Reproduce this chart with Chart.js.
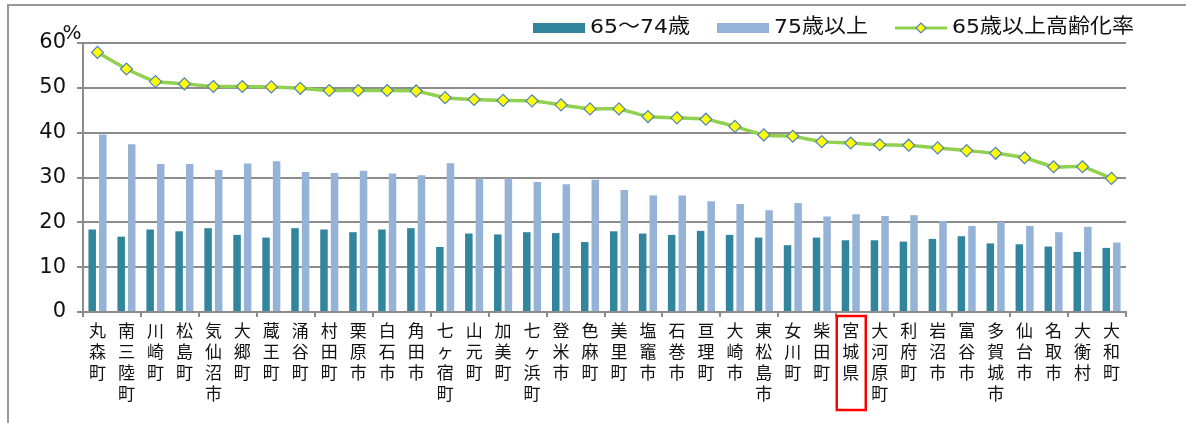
<!DOCTYPE html>
<html>
<head>
<meta charset="utf-8">
<script src="https://cdn.jsdelivr.net/npm/chart.js@4/dist/chart.umd.min.js"></script>
<style>
  html, body { margin: 0; padding: 0; background: #fff; }
  #wrap { width: 1186px; height: 423px; }
</style>
</head>
<body>
<div id="wrap"><canvas id="agingChart" width="1186" height="423"></canvas></div>
<script>
// 市町村別 高齢化率（％）
const municipalities = [
    '丸森町', '南三陸町', '川崎町', '松島町', '気仙沼市', '大郷町', '蔵王町', '涌谷町', '村田町',
    '栗原市', '白石市', '角田市', '七ヶ宿町', '山元町', '加美町', '七ヶ浜町', '登米市', '色麻町',
    '美里町', '塩竈市', '石巻市', '亘理町', '大崎市', '東松島市', '女川町', '柴田町', '宮城県',
    '大河原町', '利府町', '岩沼市', '富谷市', '多賀城市', '仙台市', '名取市', '大衡村', '大和町'
];
const age65to74 = [
    18.4, 16.8, 18.4, 18.0, 18.7, 17.2, 16.6, 18.7, 18.4, 17.8, 18.4, 18.7,
    14.5, 17.5, 17.3, 17.8, 17.6, 15.6, 18.0, 17.5, 17.2, 18.1, 17.2, 16.6,
    14.9, 16.6, 16.0, 16.0, 15.7, 16.3, 16.9, 15.3, 15.1, 14.6, 13.4, 14.3
];
const age75plus = [
    39.6, 37.4, 33.0, 33.0, 31.7, 33.1, 33.6, 31.2, 31.0, 31.5, 30.9, 30.5,
    33.2, 29.8, 29.8, 29.0, 28.5, 29.5, 27.2, 26.0, 26.0, 24.7, 24.1, 22.7,
    24.3, 21.3, 21.8, 21.4, 21.6, 20.3, 19.2, 20.1, 19.2, 17.8, 19.0, 15.5
];
const agingRate = [
    57.9, 54.2, 51.4, 50.9, 50.3, 50.3, 50.2, 49.9, 49.4, 49.4, 49.4, 49.3,
    47.8, 47.4, 47.2, 47.1, 46.2, 45.3, 45.3, 43.6, 43.3, 43.0, 41.4, 39.5,
    39.2, 38.0, 37.7, 37.3, 37.2, 36.6, 36.0, 35.4, 34.4, 32.4, 32.4, 29.8
];
const seriesNames = ['65～74歳', '75歳以上', '65歳以上高齢化率'];
const highlighted = '宮城県';

const GRID = '#8c8c8c';
const TEXT = '#111';
const CJK = '"Noto Sans CJK JP", sans-serif';

function drawDiamond(ctx, x, y, r) {
    ctx.beginPath();
    ctx.moveTo(x, y - r);
    ctx.lineTo(x + r, y);
    ctx.lineTo(x, y + r);
    ctx.lineTo(x - r, y);
    ctx.closePath();
    ctx.fillStyle = '#FFFF00';
    ctx.fill();
    ctx.lineWidth = 1.2;
    ctx.strokeStyle = '#4F81BD';
    ctx.stroke();
}

// 枠線・凡例・％記号・宮城県の赤枠
const decorations = {
    id: 'decorations',
    beforeDraw(chart) {
        const { ctx, width, height } = chart;
        ctx.save();
        ctx.strokeStyle = '#999';
        ctx.lineWidth = 2;
        ctx.beginPath();
        ctx.moveTo(8, height);
        ctx.lineTo(8, 5);
        ctx.lineTo(width, 5);
        ctx.stroke();
        ctx.restore();
    },
    afterDraw(chart) {
        const { ctx, chartArea, scales } = chart;
        ctx.save();

        // 凡例（文字は少し横長に描く）
        const stretch = 1.1;
        const cy = 28;
        let x = 533;
        ctx.font = '20px "DejaVu Sans", ' + CJK;
        ctx.textBaseline = 'middle';
        chart.data.datasets.slice().sort((a, b) => a.legendRank - b.legendRank).forEach(ds => {
            if (ds.type === 'line') {
                ctx.strokeStyle = ds.borderColor;
                ctx.lineWidth = 3;
                ctx.beginPath();
                ctx.moveTo(x, cy);
                ctx.lineTo(x + 52, cy);
                ctx.stroke();
                drawDiamond(ctx, x + 26, cy, 5);
            } else {
                ctx.fillStyle = ds.backgroundColor;
                ctx.fillRect(x, cy - 5, 52, 10);
            }
            x += 57;
            const w = ctx.measureText(ds.label).width * stretch;
            ctx.save();
            ctx.translate(x, cy);
            ctx.scale(stretch, 1);
            ctx.fillStyle = TEXT;
            ctx.fillText(ds.label, 0, 0);
            ctx.restore();
            x += w + 27;
        });

        // ％
        ctx.font = '20px "DejaVu Sans"';
        ctx.fillStyle = TEXT;
        ctx.textAlign = 'center';
        ctx.fillText('%', chartArea.left - 11, chartArea.top - 9);

        // 宮城県の赤枠
        const xi = scales.x.getPixelForValue(municipalities.indexOf(highlighted));
        ctx.strokeStyle = '#FF0000';
        ctx.lineWidth = 2.5;
        ctx.strokeRect(xi - 14, chartArea.bottom + 4, 29, 94);
        ctx.restore();
    }
};

const ctx = document.getElementById('agingChart');
new Chart(ctx, {
    type: 'bar',
    data: {
        labels: municipalities.map(n => Array.from(n)),
        datasets: [
            {
                type: 'line',
                label: seriesNames[2],
                legendRank: 3,
                data: agingRate,
                borderColor: '#92D050',
                borderWidth: 3.5,
                tension: 0.15,
                pointStyle: 'rectRot',
                pointRadius: 6,
                pointBackgroundColor: '#FFFF00',
                pointBorderColor: '#4F81BD',
                pointBorderWidth: 1.2,
                fill: false
            },
            {
                label: seriesNames[0],
                legendRank: 1,
                data: age65to74,
                backgroundColor: '#31859C',
                categoryPercentage: 0.73,
                barPercentage: 0.71
            },
            {
                label: seriesNames[1],
                legendRank: 2,
                data: age75plus,
                backgroundColor: '#95B3D7',
                categoryPercentage: 0.73,
                barPercentage: 0.71
            }
        ]
    },
    options: {
        responsive: false,
        animation: false,
        layout: { padding: { left: 0, right: 60, top: 43, bottom: 0 } },
        plugins: {
            legend: { display: false },
            tooltip: { enabled: false }
        },
        scales: {
            x: {
                grid: {
                    drawOnChartArea: false,
                    tickLength: 5,
                    lineWidth: 2,
                    color: c => (c.index === undefined || c.index % 2 === 0) ? GRID : 'rgba(0,0,0,0)'
                },
                border: { color: GRID, width: 2 },
                ticks: {
                    maxRotation: 0,
                    autoSkip: false,
                    padding: 3,
                    color: TEXT,
                    font: { family: CJK, size: 17, lineHeight: 1.24 }
                },
                afterFit: s => { s.height = 111; }
            },
            y: {
                min: 0,
                max: 60,
                grid: { color: GRID, lineWidth: 2, tickLength: 6 },
                border: { color: GRID, width: 2 },
                ticks: {
                    stepSize: 10,
                    padding: 11,
                    color: TEXT,
                    font: { family: '"DejaVu Sans"', size: 21 }
                },
                afterFit: s => { s.width = 83; }
            }
        }
    },
    plugins: [decorations]
});
</script>
</body>
</html>
